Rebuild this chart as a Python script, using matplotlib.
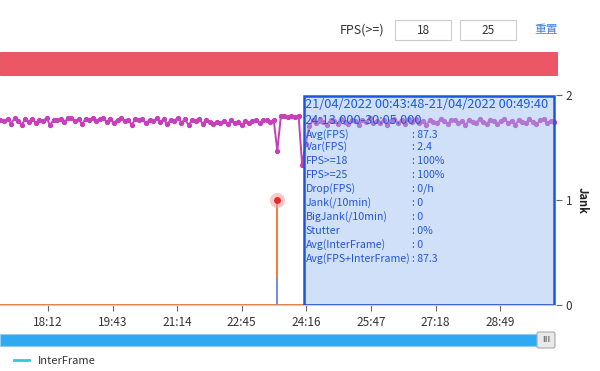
import matplotlib
matplotlib.use("Agg")
import matplotlib.pyplot as plt
from matplotlib.patches import Rectangle, FancyBboxPatch
from matplotlib.transforms import blended_transform_factory
import numpy as np

plt.rcParams['font.family'] = ['Noto Sans CJK SC', 'DejaVu Sans']

# --- data -------------------------------------------------------------
# time axis in seconds (mm:ss of the session)
t_start = 1025
t_step = 5
fps = [
    88.2, 87.5, 88.6, 86.4, 88.9, 87.8, 85.9, 88.4, 87.2, 88.8,
    86.7, 88.1, 87.6, 89.0, 85.6, 88.3, 87.9, 88.6, 87.1, 88.9,
    89.2, 87.4, 88.5, 86.2, 88.7, 88.0, 89.1, 87.6, 88.4, 88.9,
    87.3, 88.6, 86.8, 88.2, 89.0, 87.7, 88.3, 85.8, 88.6, 87.9,
    88.8, 86.5, 88.1, 87.4, 88.9, 87.0, 88.5, 86.1, 88.3, 87.8,
    89.1, 86.9, 88.4, 85.7, 88.0, 87.5, 88.7, 86.3, 88.2, 87.1,
    86.4, 87.2, 86.8, 87.5, 86.1, 87.9, 86.6, 87.3, 85.5, 87.8,
    86.9, 87.6, 88.1, 86.7, 87.9, 88.3, 87.2, 88.0,
    73.5,
    89.8, 90.1, 89.6, 90.0, 89.7, 90.2,
    66.8,
    76.5, 85.2,
    87.9, 86.8, 88.4, 87.2, 85.9, 88.1, 87.5, 86.4, 88.7, 87.0,
    86.2, 88.3, 87.6, 85.8, 88.0, 87.3, 88.9, 86.6, 87.8, 86.9,
    88.2, 85.7, 87.4, 88.6, 86.8, 87.9, 86.3, 88.4, 87.1, 88.8,
    86.5, 87.7, 85.9, 88.1, 87.2, 86.7, 88.5, 87.4, 86.1, 87.9,
    88.3, 86.9, 87.6, 85.6, 88.0, 87.3, 86.8, 88.6, 87.1, 86.4,
    88.2, 87.5, 86.2, 87.8, 88.7, 86.9, 87.4, 85.8, 88.1, 87.0,
    86.6, 88.4, 87.3, 86.0, 87.9, 88.5, 86.7, 87.6, 87.2,
]
jank_times = [1025, 1414, 1414, 1414, 1805]
jank_vals = [0, 0, 1, 0, 0]
interframe_times = [1025, 1414, 1414, 1414, 1805]
interframe_vals = [0, 0, 0.26, 0, 0]

tick_secs = [1092, 1183, 1274, 1365, 1456, 1547, 1638, 1729]
tick_labels = ['18:12', '19:43', '21:14', '22:45', '24:16', '25:47', '27:18', '28:49']
x_min, x_max = 1024.4, 1807.6

sel_start, sel_end = 1453, 1805
sel_title = ['21/04/2022 00:43:48-21/04/2022 00:49:40', '24:13.000-30:05.000']
stat_names = ['Avg(FPS)', 'Var(FPS)', 'FPS>=18', 'FPS>=25', 'Drop(FPS)', 'Jank(/10min)',
              'BigJank(/10min)', 'Stutter', 'Avg(InterFrame)', 'Avg(FPS+InterFrame)']
stat_values = ['87.3', '2.4', '100%', '100%', '0/h', '0', '0', '0%', '0', '87.3']
fps_limits = ['18', '25']

W, H = 600, 371
fig = plt.figure(figsize=(6, 3.71), dpi=100)


def fx(px):
    return px / W


def fy(py):
    return 1 - py / H


# top toolbar
fig.text(fx(362), fy(30), 'FPS(>=)', fontsize=9, color='#333333', ha='center', va='center')
for (x0, x1), val in zip([(395, 451), (460, 516)], fps_limits):
    fig.patches.append(Rectangle((fx(x0), fy(40)), fx(x1 - x0), (40 - 20) / H,
                                 transform=fig.transFigure, facecolor='white',
                                 edgecolor='#cccccc', lw=0.8))
    fig.text(fx((x0 + x1) / 2), fy(30), val, fontsize=8.5, color='#333333', ha='center', va='center')
fig.text(fx(546), fy(30), '重置', fontsize=8.5, color='#3f7fdc', ha='center', va='center')

# red status bar
fig.patches.append(Rectangle((0, fy(75)), fx(557), (75 - 52) / H, transform=fig.transFigure,
                             facecolor='#ec5766', edgecolor='#e2495a', lw=0.6))

# main axes (jank on the right, fps on a hidden axis)
ax = fig.add_axes([0, fy(305), fx(556), (305 - 95) / H])
ax_fps = ax.twinx()

t = t_start + t_step * np.arange(len(fps))
ax_fps.plot(t, fps, color='#c63fbb', lw=1.4, marker='o', ms=2.8, zorder=2)
ax_fps.set_ylim(0, 100)
ax_fps.axis('off')

ax.set_zorder(ax_fps.get_zorder() + 1)
ax.patch.set_visible(False)

ifr, = ax.plot(interframe_times, interframe_vals, color='#2ec8e4', lw=1.2, zorder=3,
               label='InterFrame')
ax.plot(jank_times, jank_vals, color='#f47b3b', lw=1.3, zorder=4)
# the part of the spike where interframe and jank overlap shows blue-grey
ax.vlines(interframe_times[2], 0, interframe_vals[2], color='#7a90d4', lw=1.5, zorder=4.5)
spike_t = jank_times[2]
ax.plot([spike_t], [jank_vals[2]], 'o', ms=11, color='#f5a0a0', alpha=0.55, mec='none', zorder=5)
ax.plot([spike_t], [jank_vals[2]], 'o', ms=5, color='#e8282c', mec='none', zorder=6)

ax.set_xlim(x_min, x_max)
ax.set_ylim(0, 2)
ax.yaxis.tick_right()
ax.yaxis.set_label_position('right')
ax.set_yticks([0, 1, 2])
ax.set_xticks(tick_secs)
ax.set_xticklabels(tick_labels)
ax.tick_params(axis='both', labelsize=8.5, colors='#666666', labelcolor='#333333', length=4, width=0.8)
ax.tick_params(axis='y', pad=3)
ax.tick_params(axis='x', pad=4)
for s in ['top', 'left', 'right']:
    ax.spines[s].set_visible(False)
ax.spines['bottom'].set_color('#cccccc')
ax.set_ylabel('Jank', rotation=-90, fontsize=8, fontweight='bold', labelpad=12, color='#222222')

# selection box
ax.axvspan(sel_start, sel_end, ymin=0, ymax=0.995, facecolor='#97bbf0', alpha=0.45,
           edgecolor='none', zorder=7)
ax.axvspan(sel_start, sel_end, ymin=0, ymax=0.995, facecolor='none',
           edgecolor='#1a56e0', lw=1.8, zorder=7.5)
bt = blended_transform_factory(ax.transData, fig.transFigure)
txt_color = '#2456d6'
ax.text(sel_start + 1, fy(105), sel_title[0], transform=bt, fontsize=9.2, color=txt_color,
        va='center', ha='left', zorder=8)
ax.text(sel_start + 1, fy(121), sel_title[1], transform=bt, fontsize=9.2, color=txt_color,
        va='center', ha='left', zorder=8)
row_y = [135, 146.5, 160.5, 174.5, 189, 203, 217, 231, 245, 259]
for name, val, yy in zip(stat_names, stat_values, row_y):
    ax.text(sel_start + 2, fy(yy), name, transform=bt, fontsize=7.6, color=txt_color,
            va='center', ha='left', zorder=8)
    ax.text(sel_start + 152, fy(yy), ': ' + val, transform=bt, fontsize=7.6, color=txt_color,
            va='center', ha='left', zorder=8)

# zoom slider
fig.patches.append(Rectangle((0, fy(346)), fx(537), (346 - 334) / H, transform=fig.transFigure,
                             facecolor='#2fa9f2', edgecolor='#8fcdf5', lw=0.8))
fig.patches.append(FancyBboxPatch((fx(537), fy(348)), fx(18), (348 - 332) / H,
                                  boxstyle='round,pad=0,rounding_size=0.004',
                                  transform=fig.transFigure, facecolor='#e9e9e9',
                                  edgecolor='#a8a8a8', lw=0.8))
fig.text(fx(546), fy(340), 'III', fontsize=6, color='#777777', ha='center', va='center',
         fontweight='bold')

# legend
leg = fig.legend(handles=[ifr], labels=['InterFrame'], loc='center left',
                 bbox_to_anchor=(fx(10), fy(361)), frameon=False, fontsize=8,
                 handlelength=1.3, handletextpad=0.8, borderaxespad=0)
leg.get_lines()[0].set_linewidth(2)
for tx in leg.get_texts():
    tx.set_color('#333333')

fig.savefig('out.png', dpi=100)
